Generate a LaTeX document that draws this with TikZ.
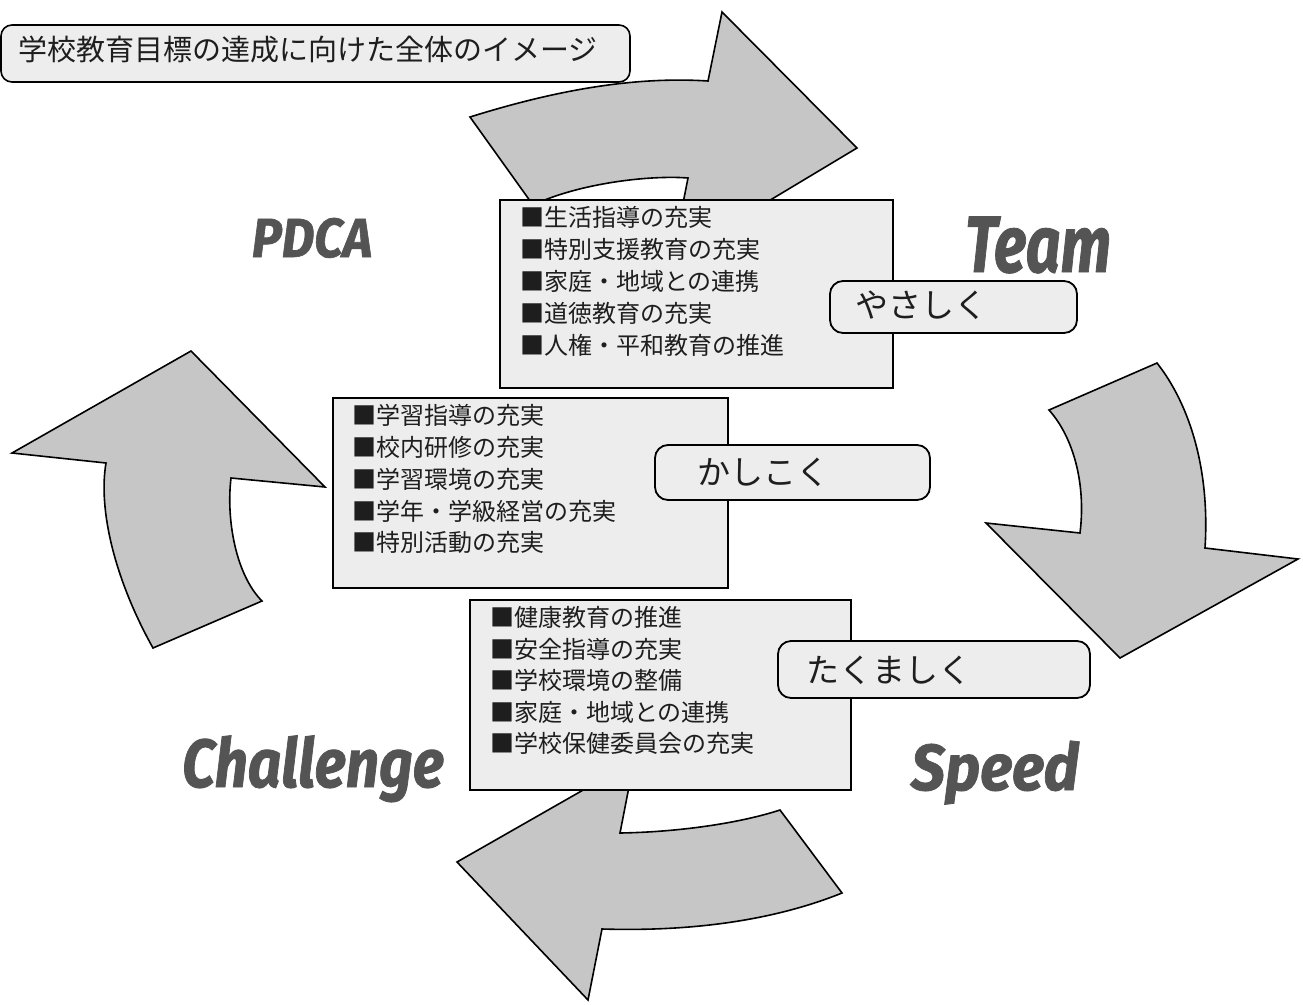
\documentclass[tikz,border=0pt]{standalone}
\usepackage{fontspec}
\setmainfont{Noto Sans CJK JP}
\newfontfamily\lblfont{Fira Sans}[BoldItalicFeatures={FakeBold=1.2}]
\definecolor{arrowgray}{HTML}{C6C6C6}
\definecolor{boxgray}{HTML}{EDEDED}
\definecolor{lblgray}{HTML}{545454}
\definecolor{ink}{HTML}{1E1E1E}
\begin{document}
\begin{tikzpicture}[x=1pt,y=-1pt,
  cyclearrow/.style={fill=arrowgray,draw=black,line width=1.6pt,line join=miter},
  listbox/.style={fill=boxgray,draw=black,line width=1.6pt},
  tagbox/.style={fill=boxgray,draw=black,line width=1.8pt,rounded corners=13pt},
  listline/.style={anchor=base west,inner sep=0pt,text=ink,font=\fontsize{24}{24}\selectfont},
  tagtext/.style={anchor=west,inner sep=0pt,text=ink,font=\fontsize{33}{33}\selectfont},
  biglabel/.style={anchor=base,inner sep=0pt,text=lblgray,font=\lblfont\bfseries\itshape}
]
\useasboundingbox[fill=white] (0,0) rectangle (1303,1004);

% title
\draw[fill=boxgray,draw=black,line width=1.6pt,rounded corners=11pt] (1,25) rectangle (630,82);
\node[anchor=west,inner sep=0pt,text=ink,font=\fontsize{29}{29}\selectfont] (title) at (18,50) {学校教育目標の達成に向けた全体のイメージ};

% four curved arrows
\draw[cyclearrow] (470,117) .. controls (550,92) and (630,76) .. (708,81) -- (722,12) -- (857,148) -- (672,259) -- (688,178) .. controls (650,175) and (580,183) .. (533,205) -- cycle;
\draw[cyclearrow] (1049,410) -- (1157,363) .. controls (1190,405) and (1210,470) .. (1205,548) -- (1298,559) -- (1120,658) -- (986,523) -- (1080,533) .. controls (1086,485) and (1074,438) .. (1049,410) -- cycle;
\draw[cyclearrow] (457,862) -- (634,761) -- (620,833) .. controls (680,832) and (740,823) .. (780,810) -- (842,893) .. controls (780,918) and (700,932) .. (602,929) -- (588,1000) -- cycle;
\draw[cyclearrow] (191,351) -- (325,487) -- (231,478) .. controls (226,520) and (236,575) .. (262,601) -- (153,648) .. controls (115,580) and (98,510) .. (106,463) -- (12,453) -- cycle;

% list boxes
\draw[listbox] (500,200) rectangle (893,388);
\draw[listbox] (333,398) rectangle (728,588);
\draw[listbox] (470,600) rectangle (851,790);

\node[listline] (a1) at (520,226) {■生活指導の充実};
\node[listline] (a2) at (520,258) {■特別支援教育の充実};
\node[listline] (a3) at (520,290) {■家庭・地域との連携};
\node[listline] (a4) at (520,322) {■道徳教育の充実};
\node[listline] (a5) at (520,354) {■人権・平和教育の推進};

\node[listline] (b1) at (352,424) {■学習指導の充実};
\node[listline] (b2) at (352,456) {■校内研修の充実};
\node[listline] (b3) at (352,488) {■学習環境の充実};
\node[listline] (b4) at (352,520) {■学年・学級経営の充実};
\node[listline] (b5) at (352,551) {■特別活動の充実};

\node[listline] (c1) at (490,626) {■健康教育の推進};
\node[listline] (c2) at (490,658) {■安全指導の充実};
\node[listline] (c3) at (490,689) {■学校環境の整備};
\node[listline] (c4) at (490,721) {■家庭・地域との連携};
\node[listline] (c5) at (490,752) {■学校保健委員会の充実};

% tag boxes
\draw[tagbox] (830,281) rectangle (1077,333);
\node[tagtext] (yasashiku) at (855,305) {やさしく};
\draw[tagbox] (655,445) rectangle (930,500);
\node[tagtext] (kashikoku) at (697,472) {かしこく};
\draw[tagbox] (778,641) rectangle (1090,698);
\node[tagtext] (takumashiku) at (806,670) {たくましく};

% big labels
\node[biglabel,font=\lblfont\bfseries\itshape\fontsize{55}{55}\selectfont] (pdca) at (312,257) {\scalebox{0.92}[1]{PDCA}};
\node[biglabel,font=\lblfont\bfseries\itshape\fontsize{80}{80}\selectfont] (team) at (1038,272) {\scalebox{0.76}[1]{Team}};
\node[biglabel,font=\lblfont\bfseries\itshape\fontsize{68}{68}\selectfont] (challenge) at (313,787) {\scalebox{0.86}[1]{Challenge}};
\node[biglabel,font=\lblfont\bfseries\itshape\fontsize{65}{65}\selectfont] (speed) at (995,790) {\scalebox{0.93}[1]{Speed}};
\end{tikzpicture}
\end{document}
